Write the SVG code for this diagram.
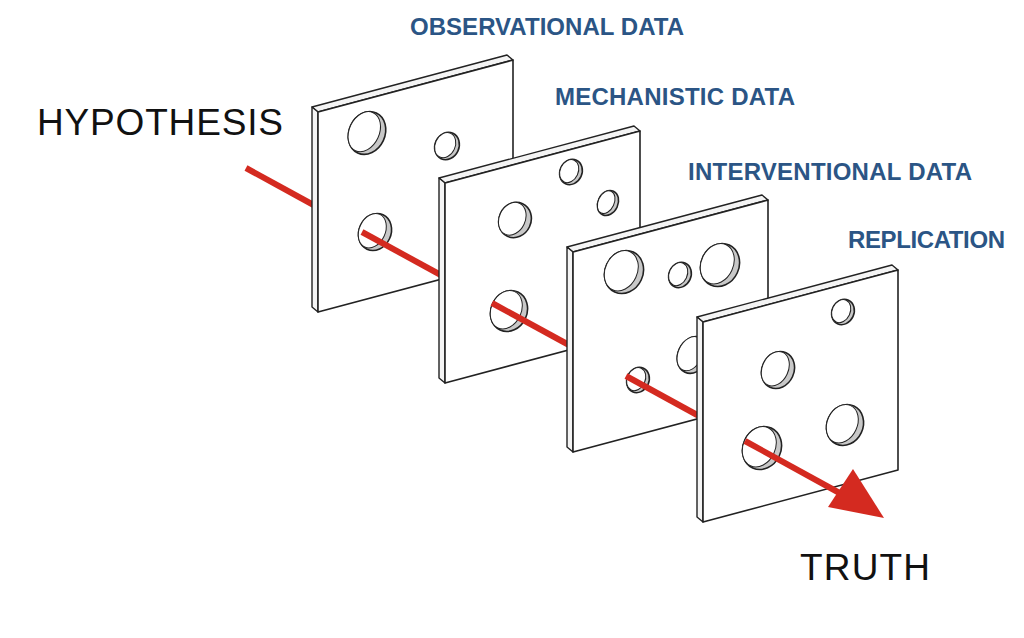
<svg xmlns="http://www.w3.org/2000/svg" width="1024" height="638" viewBox="0 0 1024 638">
<style>
.face{fill:#fff;stroke:#222;stroke-width:1.6;stroke-linejoin:round}
.edge{fill:#f4f4f4;stroke:#222;stroke-width:1.4;stroke-linejoin:round}
.ho{fill:#c8c8c8;stroke:#222;stroke-width:1.6}
.hi{fill:#fff;stroke:#222;stroke-width:1}
.ray{stroke:#d42a20;stroke-width:6;fill:none}
.lab{font-family:"Liberation Sans",Arial,sans-serif;font-weight:bold;font-size:24px;fill:#2b5585}
.big{font-family:"Liberation Sans",Arial,sans-serif;font-size:37px;fill:#111}
</style>
<defs>
<g id="slab">
<polygon class="edge" points="-6,-5 189,-57 195,-52 0,0"/>
<polygon class="edge" points="-6,-5 0,0 0,200 -6,195"/>
<polygon class="face" points="0,0 195,-52 195,148 0,200"/>
</g>
</defs>
<rect width="1024" height="638" fill="#fff"/>
<g id="connectors">
<line class="ray" x1="246" y1="168" x2="330" y2="214"/>
</g>
<g id="slice1" transform="translate(318,112)">
<use href="#slab"/>
<g transform="translate(49,21) rotate(25)"><ellipse class="ho" rx="18" ry="22"/><ellipse class="hi" cx="-3" rx="15" ry="21"/></g>
<g transform="translate(129,34) rotate(25)"><ellipse class="ho" rx="12" ry="14"/><ellipse class="hi" cx="-2" rx="10" ry="13"/></g>
<g transform="translate(57,120) rotate(25)"><ellipse class="ho" rx="16" ry="19"/><ellipse class="hi" cx="-3" rx="13" ry="18"/></g>
</g>
<line class="ray" x1="362" y1="232" x2="450" y2="280"/>
<g id="slice2" transform="translate(445,183)">
<use href="#slab"/>
<g transform="translate(126,-11) rotate(25)"><ellipse class="ho" rx="11" ry="13"/><ellipse class="hi" cx="-2" rx="9" ry="12"/></g>
<g transform="translate(70,37) rotate(25)"><ellipse class="ho" rx="16" ry="18"/><ellipse class="hi" cx="-3" rx="13" ry="17"/></g>
<g transform="translate(163,20) rotate(25)"><ellipse class="ho" rx="10" ry="13"/><ellipse class="hi" cx="-2" rx="8" ry="12"/></g>
<g transform="translate(64,128) rotate(25)"><ellipse class="ho" rx="18" ry="21"/><ellipse class="hi" cx="-3" rx="15" ry="20"/></g>
</g>
<line class="ray" x1="492" y1="303" x2="580" y2="351"/>
<g id="slice3" transform="translate(573,252)">
<use href="#slab"/>
<g transform="translate(51,20) rotate(25)"><ellipse class="ho" rx="19" ry="22"/><ellipse class="hi" cx="-3" rx="16" ry="21"/></g>
<g transform="translate(107,23) rotate(25)"><ellipse class="ho" rx="11" ry="13"/><ellipse class="hi" cx="-2" rx="9" ry="12"/></g>
<g transform="translate(147,13) rotate(25)"><ellipse class="ho" rx="19" ry="22"/><ellipse class="hi" cx="-3" rx="16" ry="21"/></g>
<g transform="translate(65,128) rotate(25)"><ellipse class="ho" rx="11" ry="13"/><ellipse class="hi" cx="-2" rx="9" ry="12"/></g>
<g transform="translate(120,103) rotate(25)"><ellipse class="ho" rx="15" ry="19"/><ellipse class="hi" cx="-3" rx="12" ry="18"/></g>
</g>
<line class="ray" x1="626" y1="376" x2="710" y2="422"/>
<g id="slice4" transform="translate(703,322)">
<use href="#slab"/>
<g transform="translate(140,-10) rotate(25)"><ellipse class="ho" rx="11" ry="13"/><ellipse class="hi" cx="-2" rx="9" ry="12"/></g>
<g transform="translate(75,48) rotate(25)"><ellipse class="ho" rx="16" ry="19"/><ellipse class="hi" cx="-3" rx="13" ry="18"/></g>
<g transform="translate(142,103) rotate(25)"><ellipse class="ho" rx="18" ry="21"/><ellipse class="hi" cx="-3" rx="15" ry="20"/></g>
<g transform="translate(59,126) rotate(25)"><ellipse class="ho" rx="19" ry="22"/><ellipse class="hi" cx="-3" rx="16" ry="21"/></g>
</g>
<g id="arrow">
<line class="ray" x1="745" y1="441" x2="845" y2="496"/>
<polygon points="884,518 828,507 853,469" fill="#d42a20"/>
</g>
<text class="big" x="37" y="135" textLength="246">HYPOTHESIS</text>
<text class="big" x="800" y="580" textLength="130">TRUTH</text>
<text class="lab" x="410" y="35" textLength="274">OBSERVATIONAL DATA</text>
<text class="lab" x="555" y="105" textLength="240">MECHANISTIC DATA</text>
<text class="lab" x="688" y="180" textLength="284">INTERVENTIONAL DATA</text>
<text class="lab" x="848" y="248" textLength="157">REPLICATION</text>
</svg>
